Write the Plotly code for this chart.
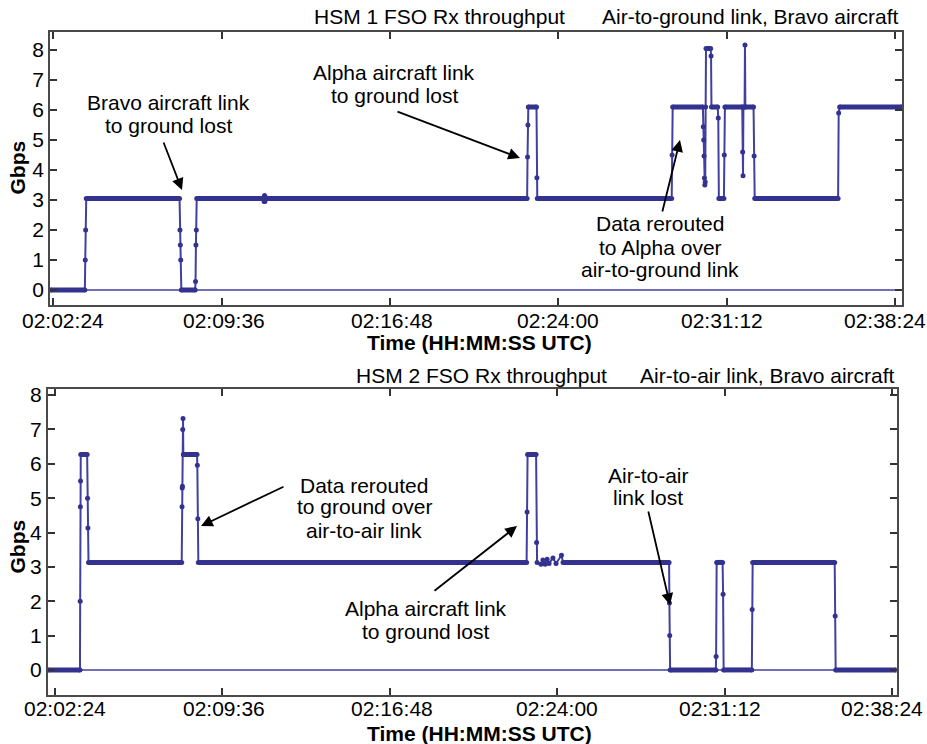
import pandas as pd
import plotly.graph_objects as go

# ---------------- data ----------------
BASE = pd.Timestamp("2000-01-01 02:02:24")

x_tick_labels = ["02:02:24", "02:09:36", "02:16:48", "02:24:00", "02:31:12", "02:38:24"]
x_tick_seconds = [0, 432, 864, 1296, 1728, 2160]
y_tick_values = [0, 1, 2, 3, 4, 5, 6, 7, 8]

# HSM 1 FSO Rx throughput, air-to-ground link (seconds after 02:02:24, Gbps)
hsm1_sec = [-6, 81, 82, 83, 84.5,
            324, 325, 326, 327, 328.5,
            364, 365, 366, 367, 368,
            540, 541, 542, 543, 544, 545,
            1216, 1217, 1218, 1219,
            1240, 1241, 1242,
            1587, 1588, 1589.5,
            1667, 1668, 1669, 1670, 1671, 1672, 1673, 1674, 1675,
            1687, 1688, 1689,
            1705, 1706.5, 1708,
            1721, 1722, 1723.5,
            1768, 1769, 1770, 1771,
            1774, 1775, 1776,
            1797, 1798.5, 1800,
            2014, 2015.5, 2018,
            2177]
hsm1_gbps = [0, 0, 1.0, 2.0, 3.05,
             3.05, 2.0, 1.5, 1.0, 0,
             0, 0.28, 1.5, 2.0, 3.05,
             3.05, 2.95, 3.15, 2.95, 3.1, 3.05,
             3.05, 4.43, 5.5, 6.1,
             6.1, 3.74, 3.05,
             3.05, 4.5, 6.1,
             6.1, 5.44, 5.0, 4.47, 3.73, 3.5, 3.6, 6.1, 8.05,
             8.05, 7.8, 6.1,
             6.1, 5.73, 3.05,
             3.05, 4.5, 6.1,
             6.1, 4.6, 3.81, 6.1,
             6.1, 8.17, 6.1,
             6.1, 4.47, 3.05,
             3.05, 5.9, 6.1,
             6.1]

# HSM 2 FSO Rx throughput, air-to-air link (seconds after 02:02:24, Gbps)
hsm2_sec = [-17, 64.5, 65, 65.5, 66, 66.5,
            83, 84, 85, 86.5,
            327, 327.8, 328.3, 328.8, 329.6, 330.4, 331.2,
            366.5, 367.3, 368.6, 369.9,
            1217, 1218.2, 1219.5,
            1241.5, 1242.8, 1244,
            1254, 1259, 1264.8, 1270, 1275, 1285, 1293, 1307, 1311,
            1584.7, 1585.5, 1586.3, 1587.3,
            1705.3, 1706, 1707.4,
            1722.8, 1724, 1725.4,
            1798.2, 1799, 1800.3,
            2012, 2013.2, 2014.5,
            2170.6]
hsm2_gbps = [0, 0, 2.0, 4.75, 5.5, 6.27,
             6.27, 5.0, 4.13, 3.13,
             3.13, 4.75, 5.3, 5.35, 7.0, 7.32, 6.27,
             6.27, 5.96, 4.4, 3.13,
             3.13, 4.6, 6.27,
             6.27, 3.71, 3.13,
             3.08, 3.2, 3.08, 3.22, 3.1, 3.26, 3.1, 3.34, 3.13,
             3.13, 1.95, 1.0, 0,
             0, 0.39, 3.13,
             3.13, 2.2, 0,
             0, 1.76, 3.13,
             3.13, 1.57, 0,
             0]

# ---------------- figure ----------------
W, H = 927, 744
FONT = "Liberation Sans, Arial, Helvetica, sans-serif"
LINE_C = "#4040a0"
THICK_C = "#33338f"


def to_time(secs):
    return [None if s is None else BASE + pd.Timedelta(seconds=s) for s in secs]


def plateaus(secs, vals):
    xs, ys = [], []
    for i in range(len(secs) - 1):
        if vals[i] == vals[i + 1]:
            xs += [secs[i], secs[i + 1], None]
            ys += [vals[i], vals[i + 1], None]
    return xs, ys


fig = go.Figure()

panels = [
    (hsm1_sec, hsm1_gbps, "x", "y"),
    (hsm2_sec, hsm2_gbps, "x2", "y2"),
]
for secs, vals, xa, ya in panels:
    # zero baseline spanning the record
    fig.add_trace(go.Scatter(
        x=to_time([secs[0], secs[-1]]), y=[0, 0], mode="lines",
        line=dict(color=LINE_C, width=1.5), xaxis=xa, yaxis=ya,
        showlegend=False, hoverinfo="skip"))
    # thin trace with sample markers
    fig.add_trace(go.Scatter(
        x=to_time(secs), y=vals, mode="lines+markers",
        line=dict(color=LINE_C, width=2),
        marker=dict(color=THICK_C, size=5),
        xaxis=xa, yaxis=ya, showlegend=False))
    # dense (thick) plateaus
    px_, py_ = plateaus(secs, vals)
    fig.add_trace(go.Scatter(
        x=to_time(px_), y=py_, mode="lines",
        line=dict(color=THICK_C, width=5),
        xaxis=xa, yaxis=ya, showlegend=False, hoverinfo="skip",
        connectgaps=False))


def xdom(l, r):
    return [l / W, r / W]


def ydom(top, bottom):
    return [1 - bottom / H, 1 - top / H]


common_axis = dict(
    showgrid=False, zeroline=False, showline=True, linecolor="#4a4a4a",
    linewidth=1.6, mirror="ticks", ticks="inside", ticklen=7, tickwidth=1.6,
    tickcolor="#333333", tickfont=dict(family=FONT, size=21, color="black"),
    automargin=False,
)

tickvals = to_time(x_tick_seconds)

fig.update_layout(
    width=W, height=H, margin=dict(l=0, r=0, t=0, b=0),
    paper_bgcolor="white", plot_bgcolor="white", template="none",
    font=dict(family=FONT, size=21, color="black"),
    xaxis=dict(common_axis, type="date", domain=xdom(50, 902),
               range=to_time([-8.5, 2178]), tickvals=tickvals,
               showticklabels=False, anchor="y"),
    yaxis=dict(common_axis, domain=ydom(32, 305), range=[-0.5, 8.6],
               tickvals=y_tick_values, anchor="x"),
    xaxis2=dict(common_axis, type="date", domain=xdom(47.7, 896.7),
                range=to_time([-18.8, 2172]), tickvals=tickvals,
                showticklabels=False, anchor="y2"),
    yaxis2=dict(common_axis, domain=ydom(389.3, 695), range=[-0.73, 8.17],
                tickvals=y_tick_values, anchor="x2"),
)


def P(px, py):
    return px / W, 1 - py / H


annotations = []

# x tick labels, attached to the axis tick values; the outer ones sit slightly
# inward of their ticks as in the original
label_shift = [10, 2, 2, 0, -5, -10]
for xref, yref, ypx in (("x", "paper", 320), ("x2", "paper", 708)):
    for t, lab, sh in zip(tickvals, x_tick_labels, label_shift):
        annotations.append(dict(
            x=t, y=1 - ypx / H, xref=xref, yref=yref, text=lab, showarrow=False,
            xanchor="center", yanchor="middle", xshift=sh,
            font=dict(family=FONT, size=21, color="black")))


def text(px, py, s, xanchor="center", bold=False, angle=0, size=21):
    x, y = P(px, py)
    annotations.append(dict(
        x=x, y=y, xref="paper", yref="paper", text=("<b>%s</b>" % s) if bold else s,
        showarrow=False, xanchor=xanchor, yanchor="middle", textangle=angle,
        font=dict(family=FONT, size=size, color="black")))


def arrow(tail, head):
    x, y = P(*head)
    annotations.append(dict(
        x=x, y=y, xref="paper", yref="paper", text="",
        showarrow=True, ax=tail[0] - head[0], ay=tail[1] - head[1],
        arrowhead=2, arrowsize=1.3, arrowwidth=1.8, arrowcolor="black",
        standoff=0, startstandoff=0))


# panel titles
text(439.5, 17, "HSM 1 FSO Rx throughput")
text(901, 17, "Air-to-ground link, Bravo aircraft", xanchor="right")
text(481, 375, "HSM 2 FSO Rx throughput")
text(897, 375, "Air-to-air link, Bravo aircraft", xanchor="right")

# axis titles
text(16.5, 168, "Gbps", bold=True, angle=-90)
text(16.5, 547, "Gbps", bold=True, angle=-90)
text(479, 343, "Time (HH:MM:SS UTC)", bold=True)
text(479, 733, "Time (HH:MM:SS UTC)", bold=True)

# top annotations
text(168, 103, "Bravo aircraft link")
text(168, 126, "to ground lost")
arrow((163, 141), (182, 190))

text(394, 72, "Alpha aircraft link")
text(394, 95, "to ground lost")
arrow((396, 111), (520, 158))

text(660, 223, "Data rerouted")
text(660, 247, "to Alpha over")
text(660, 269, "air-to-ground link")
arrow((662, 213), (680, 140))

# bottom annotations
text(364, 485, "Data rerouted")
text(364, 507, "to ground over")
text(364, 530, "air-to-air link")
arrow((285, 486), (201, 526))

text(425.5, 608, "Alpha aircraft link")
text(425.5, 631, "to ground lost")
arrow((433, 592), (517, 526))

text(648, 475, "Air-to-air")
text(648, 498, "link lost")
arrow((648, 510), (670, 605))

fig.update_layout(annotations=annotations)

fig.write_html("out.html")
